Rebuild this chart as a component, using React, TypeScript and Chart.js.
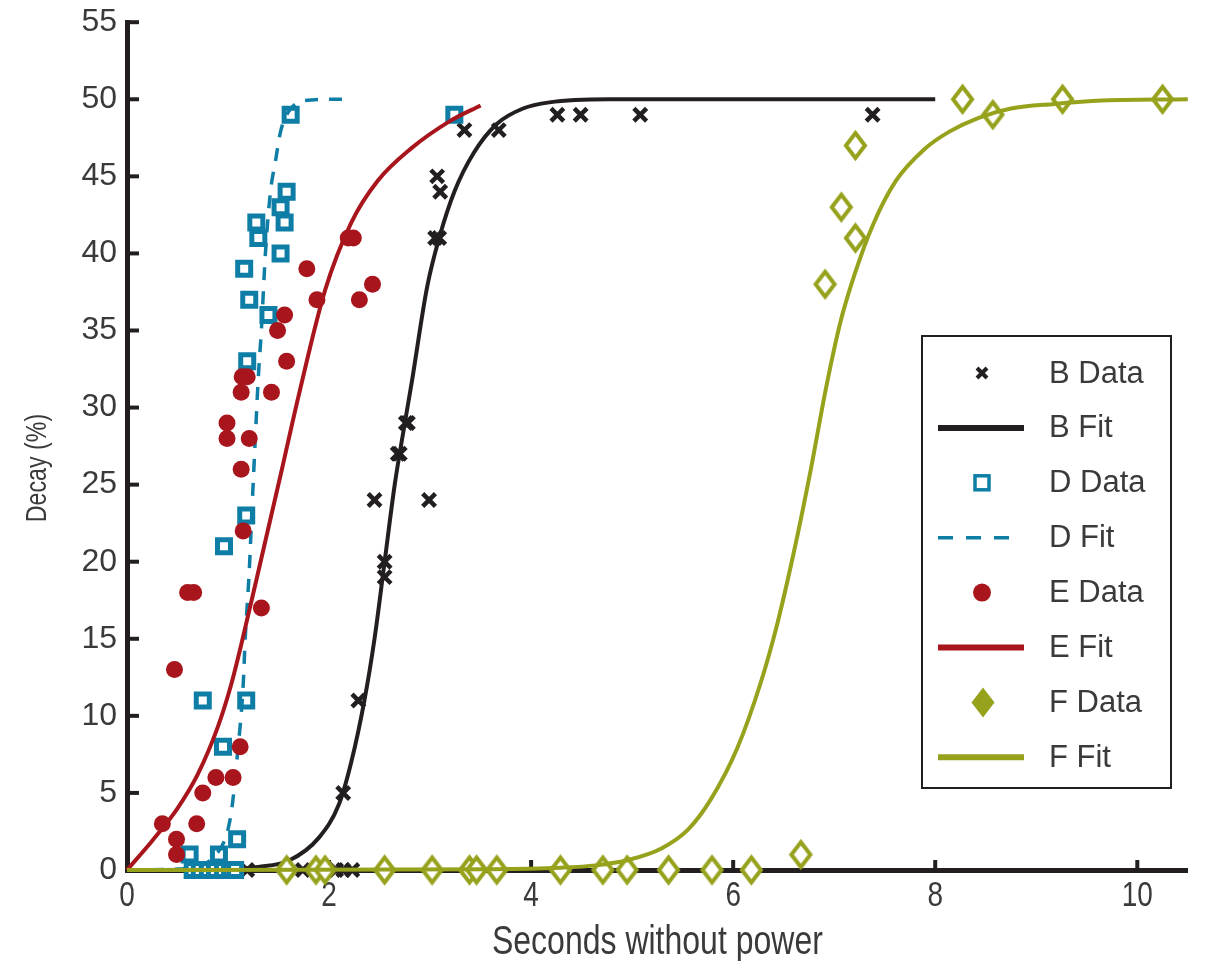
import React, { useEffect, useRef } from 'react';
import { Chart, registerables } from 'chart.js';

Chart.register(...registerables);

// ---------- data ----------
const X_TICK_STEP = 2;
const Y_TICK_STEP = 5;
const X_MAX = 10.5;
const Y_MAX = 55;
const X_TITLE = 'Seconds without power';
const Y_TITLE = 'Decay (%)';

const B_DATA_X = [1.19, 1.74, 1.95, 2.07, 2.14, 2.23, 2.14, 2.29, 2.45, 2.55, 2.55, 2.68, 2.70, 2.76, 2.78, 2.99, 3.05, 3.09, 3.07, 3.10, 3.34, 3.68, 4.26, 4.49, 5.08, 7.38];
const B_DATA_Y = [0, 0, 0, 0, 0, 0, 5, 11, 24, 19, 20, 27, 27, 29, 29, 24, 41, 41, 45, 44, 48, 48, 49, 49, 49, 49];

const B_FIT_X = [0, 1.0, 1.3, 1.6, 1.9, 2.1, 2.22, 2.35, 2.45, 2.55, 2.65, 2.75, 2.82, 2.97, 3.09, 3.24, 3.43, 3.66, 3.92, 4.18, 4.77, 8.0];
const B_FIT_Y = [0, 0.05, 0.2, 0.6, 2.1, 4.3, 7, 11, 15, 20, 25, 29, 31.7, 37.8, 41, 44, 46.5, 48.4, 49.4, 49.8, 50, 50];

const D_DATA_X = [0.65, 0.72, 0.80, 0.87, 0.95, 1.02, 1.07, 0.62, 0.91, 1.09, 0.95, 0.75, 1.18, 0.96, 1.18, 1.19, 1.40, 1.21, 1.16, 1.52, 1.30, 1.28, 1.56, 1.52, 1.58, 1.62, 3.24];
const D_DATA_Y = [0, 0, 0, 0, 0, 0, 0, 1, 1, 2, 8, 11, 11, 21, 23, 33, 36, 37, 39, 40, 41, 42, 42, 43, 44, 49, 49];

const D_FIT_X = [0, 0.6, 0.85, 0.99, 1.04, 1.09, 1.15, 1.17, 1.21, 1.24, 1.27, 1.30, 1.33, 1.37, 1.42, 1.47, 1.52, 1.60, 1.75, 2.0, 2.2];
const D_FIT_Y = [0, 0.1, 0.8, 2.4, 4.1, 7.3, 12, 15, 19.4, 23.8, 28, 32, 35, 40, 44, 46, 47.9, 49.2, 49.9, 50, 50];

const E_DATA_X = [0.35, 0.49, 0.49, 0.69, 0.75, 0.88, 1.05, 1.12, 0.47, 0.60, 0.66, 1.33, 1.15, 1.13, 0.99, 1.21, 0.99, 1.13, 1.43, 1.14, 1.19, 1.58, 1.49, 1.56, 1.88, 2.30, 2.43, 1.78, 2.19, 2.24];
const E_DATA_Y = [3, 2, 1, 3, 5, 6, 6, 8, 13, 18, 18, 17, 22, 26, 28, 28, 29, 31, 31, 32, 32, 33, 35, 36, 37, 37, 38, 39, 41, 41];

const E_FIT_X = [0, 0.25, 0.5, 0.7, 0.9, 1.03, 1.13, 1.28, 1.53, 1.70, 1.96, 2.22, 2.48, 2.81, 3.2, 3.5];
const E_FIT_Y = [0, 1.9, 4.0, 6.2, 9.3, 12.0, 14.6, 18.8, 25.9, 30.8, 37.6, 42.0, 44.7, 46.8, 48.6, 49.6];

const F_DATA_X = [1.58, 1.87, 1.96, 2.55, 3.02, 3.39, 3.46, 3.66, 4.29, 4.71, 4.95, 5.36, 5.79, 6.18, 6.67, 6.91, 7.07, 7.21, 7.21, 8.27, 8.57, 9.26, 10.25];
const F_DATA_Y = [0, 0, 0, 0, 0, 0, 0, 0, 0, 0, 0, 0, 0, 0, 1, 38, 43, 41, 47, 50, 49, 50, 50];

const F_FIT_X = [0, 3.6, 4.3, 4.64, 4.96, 5.29, 5.55, 5.78, 6.04, 6.27, 6.43, 6.6, 6.76, 6.92, 7.06, 7.2, 7.38, 7.61, 7.9, 8.14, 8.43, 8.75, 9.18, 9.6, 10.5];
const F_FIT_Y = [0, 0.05, 0.15, 0.3, 0.65, 1.4, 2.6, 4.6, 7.9, 12.1, 15.8, 20.6, 25.7, 31.3, 35.5, 38.6, 41.8, 44.7, 46.8, 47.9, 48.8, 49.4, 49.7, 49.9, 50];

const LEGEND_LABELS = ['B Data', 'B Fit', 'D Data', 'D Fit', 'E Data', 'E Fit', 'F Data', 'F Fit'];

// ---------- styles ----------
const BLACK = '#231f20';
const BLUE = '#0f7ea6';
const RED = '#a8151c';
const OLIVE = '#96a21c';
const TEXT = '#3a3a3a';
const SANS = "'Liberation Sans', Arial, sans-serif";
const CONDENSE = 0.8;

const pts = (xs: number[], ys: number[]) => xs.map((x, i) => ({ x, y: ys[i] }));

function makeDiamond(w: number, h: number, lw: number, fill: string, stroke: string | null) {
  const c = document.createElement('canvas');
  const pad = lw + 2;
  c.width = Math.ceil(w + pad * 2);
  c.height = Math.ceil(h + pad * 2);
  const g = c.getContext('2d')!;
  const cx = c.width / 2, cy = c.height / 2;
  g.beginPath();
  g.moveTo(cx, cy - h / 2);
  g.lineTo(cx + w / 2, cy);
  g.lineTo(cx, cy + h / 2);
  g.lineTo(cx - w / 2, cy);
  g.closePath();
  g.fillStyle = fill;
  g.fill();
  if (stroke) {
    g.lineWidth = lw;
    g.lineJoin = 'miter';
    g.strokeStyle = stroke;
    g.stroke();
  }
  return c;
}

function condensedText(ctx: CanvasRenderingContext2D, text: string, x: number, y: number, size: number, rotate = 0) {
  ctx.save();
  ctx.translate(x, y);
  if (rotate) ctx.rotate(rotate);
  ctx.scale(CONDENSE, 1);
  ctx.font = `${size}px ${SANS}`;
  ctx.fillStyle = TEXT;
  ctx.textAlign = 'center';
  ctx.fillText(text, 0, 0);
  ctx.restore();
}

function drawLegend(chart: any) {
  const ctx: CanvasRenderingContext2D = chart.ctx;
  const left = 914, top = 328, w = 249, h = 452;
  const rowTop = 365, rowGap = 54.9;
  const symX = 974, lineX0 = 930, lineX1 = 1016, textX = 1041;
  ctx.save();
  ctx.fillStyle = '#ffffff';
  ctx.fillRect(left, top, w, h);
  ctx.lineWidth = 2;
  ctx.strokeStyle = BLACK;
  ctx.strokeRect(left, top, w, h);

  LEGEND_LABELS.forEach((label, i) => {
    const y = rowTop + i * rowGap;
    ctx.save();
    switch (i) {
      case 0: {
        ctx.strokeStyle = BLACK;
        ctx.lineWidth = 4;
        const s = 5;
        ctx.beginPath();
        ctx.moveTo(symX - s, y - s); ctx.lineTo(symX + s, y + s);
        ctx.moveTo(symX + s, y - s); ctx.lineTo(symX - s, y + s);
        ctx.stroke();
        break;
      }
      case 1:
      case 5:
      case 7: {
        ctx.strokeStyle = i === 1 ? BLACK : i === 5 ? RED : OLIVE;
        ctx.lineWidth = 6;
        ctx.beginPath();
        ctx.moveTo(lineX0, y); ctx.lineTo(lineX1, y);
        ctx.stroke();
        break;
      }
      case 2: {
        ctx.strokeStyle = BLUE;
        ctx.lineWidth = 3.5;
        ctx.strokeRect(symX - 7, y - 7, 14, 14);
        break;
      }
      case 3: {
        ctx.strokeStyle = BLUE;
        ctx.lineWidth = 3.5;
        ctx.setLineDash([15, 13]);
        ctx.beginPath();
        ctx.moveTo(lineX0, y); ctx.lineTo(lineX1 - 8, y);
        ctx.stroke();
        break;
      }
      case 4: {
        ctx.fillStyle = RED;
        ctx.beginPath();
        ctx.arc(symX, y, 9, 0, Math.PI * 2);
        ctx.fill();
        break;
      }
      case 6: {
        ctx.fillStyle = OLIVE;
        ctx.beginPath();
        ctx.moveTo(symX + 1, y - 15);
        ctx.lineTo(symX + 12.5, y);
        ctx.lineTo(symX + 1, y + 15);
        ctx.lineTo(symX - 10.5, y);
        ctx.closePath();
        ctx.fill();
        break;
      }
    }
    ctx.restore();
    ctx.fillStyle = TEXT;
    ctx.font = `31px ${SANS}`;
    ctx.textBaseline = 'middle';
    ctx.textAlign = 'left';
    ctx.fillText(label, textX, y + 1);
  });
  ctx.restore();
}

const decorPlugin = {
  id: 'decor',
  beforeDatasetsDraw(chart: any) {
    const { ctx, chartArea, scales } = chart;
    ctx.save();
    ctx.strokeStyle = BLACK;
    ctx.lineWidth = 4;
    scales.y.ticks.forEach((t: any) => {
      if (t.value === 0) return;
      const y = scales.y.getPixelForValue(t.value);
      ctx.beginPath();
      ctx.moveTo(chartArea.left, y);
      ctx.lineTo(chartArea.left + 12, y);
      ctx.stroke();
    });
    scales.x.ticks.forEach((t: any) => {
      if (t.value === 0) return;
      const x = scales.x.getPixelForValue(t.value);
      ctx.beginPath();
      ctx.moveTo(x, chartArea.bottom);
      ctx.lineTo(x, chartArea.bottom - 10);
      ctx.stroke();
    });
    ctx.restore();

    // condensed x tick labels and axis titles
    ctx.save();
    ctx.textBaseline = 'alphabetic';
    scales.x.ticks.forEach((t: any) => {
      const x = scales.x.getPixelForValue(t.value);
      condensedText(ctx, String(t.value), x, chartArea.bottom + 36, 35);
    });
    condensedText(ctx, X_TITLE, (chartArea.left + chartArea.right) / 2, chartArea.bottom + 84, 40);
    ctx.textBaseline = 'middle';
    condensedText(ctx, Y_TITLE, 30, 460, 29, -Math.PI / 2);
    ctx.restore();
  },
  afterDraw(chart: any) {
    drawLegend(chart);
  },
};

export default function App() {
  const ref = useRef<HTMLCanvasElement | null>(null);

  useEffect(() => {
    if (!ref.current) return;
    const diamond = makeDiamond(19, 25, 4, '#ffffff', OLIVE);

    const chart = new Chart(ref.current, {
      type: 'scatter',
      data: {
        datasets: [
          {
            label: 'B Data',
            data: pts(B_DATA_X, B_DATA_Y),
            pointStyle: 'crossRot',
            pointRadius: 9,
            pointBorderWidth: 4.5,
            borderColor: BLACK,
            backgroundColor: BLACK,
            order: 8,
            clip: false,
          },
          {
            label: 'B Fit',
            data: pts(B_FIT_X, B_FIT_Y),
            showLine: true,
            pointRadius: 0,
            borderColor: BLACK,
            borderWidth: 4,
            cubicInterpolationMode: 'monotone',
            order: 7,
            clip: false,
          },
          {
            label: 'D Data',
            data: pts(D_DATA_X, D_DATA_Y),
            pointStyle: 'rect',
            pointRadius: 9.2,
            pointBorderWidth: 5,
            borderColor: BLUE,
            backgroundColor: '#ffffff',
            order: 6,
            clip: false,
          },
          {
            label: 'D Fit',
            data: pts(D_FIT_X, D_FIT_Y),
            showLine: true,
            pointRadius: 0,
            borderColor: BLUE,
            borderWidth: 3.5,
            borderDash: [13, 11],
            cubicInterpolationMode: 'monotone',
            order: 5,
            clip: false,
          },
          {
            label: 'E Data',
            data: pts(E_DATA_X, E_DATA_Y),
            pointStyle: 'circle',
            pointRadius: 8.5,
            pointBorderWidth: 0,
            borderColor: RED,
            backgroundColor: RED,
            order: 4,
            clip: false,
          },
          {
            label: 'E Fit',
            data: pts(E_FIT_X, E_FIT_Y),
            showLine: true,
            pointRadius: 0,
            borderColor: RED,
            borderWidth: 4,
            cubicInterpolationMode: 'monotone',
            order: 3,
            clip: false,
          },
          {
            label: 'F Data',
            data: pts(F_DATA_X, F_DATA_Y),
            pointStyle: diamond,
            pointRadius: 10,
            borderColor: OLIVE,
            backgroundColor: OLIVE,
            order: 2,
            clip: false,
          },
          {
            label: 'F Fit',
            data: pts(F_FIT_X, F_FIT_Y),
            showLine: true,
            pointRadius: 0,
            borderColor: OLIVE,
            borderWidth: 4,
            cubicInterpolationMode: 'monotone',
            order: 1,
            clip: false,
          },
        ],
      },
      options: {
        animation: false,
        responsive: true,
        maintainAspectRatio: false,
        events: [],
        layout: { padding: { top: 14, right: 4, left: 0, bottom: 0 } },
        plugins: {
          legend: { display: false },
          tooltip: { enabled: false },
          title: { display: false },
        },
        scales: {
          x: {
            type: 'linear',
            min: 0,
            max: X_MAX,
            grid: { display: true, drawOnChartArea: false, drawTicks: false, color: BLACK, lineWidth: 0 },
            border: { display: true, color: BLACK, width: 5 },
            ticks: {
              display: false,
              stepSize: X_TICK_STEP,
              includeBounds: false,
              maxRotation: 0,
            },
            title: { display: false },
            afterFit: (s: any) => {
              s.height = 99;
              s.paddingLeft = 0;
              s.paddingRight = 0;
            },
          },
          y: {
            type: 'linear',
            min: 0,
            max: Y_MAX,
            grid: { display: true, drawOnChartArea: false, drawTicks: false, color: BLACK, lineWidth: 0 },
            border: { display: true, color: BLACK, width: 5 },
            ticks: {
              stepSize: Y_TICK_STEP,
              padding: 10,
              color: TEXT,
              font: { family: SANS, size: 32 },
            },
            title: { display: false },
            afterFit: (s: any) => {
              s.width = 119;
              s.paddingTop = 0;
              s.paddingBottom = 0;
            },
          },
        },
      },
      plugins: [decorPlugin],
    });

    return () => chart.destroy();
  }, []);

  return (
    <div style={{ position: 'relative', width: 1194, height: 961, marginBottom: -8 }}>
      <canvas ref={ref} />
    </div>
  );
}
